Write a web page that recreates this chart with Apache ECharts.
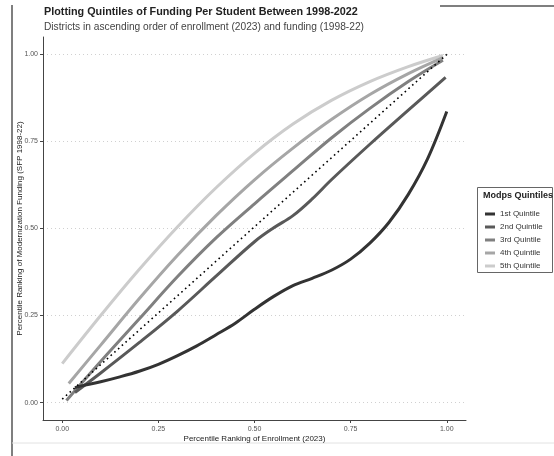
<!DOCTYPE html>
<html>
<head>
<meta charset="utf-8">
<script src="https://cdn.jsdelivr.net/npm/echarts@6/dist/echarts.min.js"></script>
<style>
html,body{margin:0;padding:0;background:#fff;}
#c{width:554px;height:456px;}
</style>
</head>
<body>
<div id="c"></div>
<script>
var ticks = [0, 0.25, 0.5, 0.75, 1];
var seriesNames = ['1st Quintile', '2nd Quintile', '3rd Quintile', '4th Quintile', '5th Quintile'];
var q1 = [[0.033,0.043],[0.05,0.048],[0.1,0.060],[0.15,0.074],[0.2,0.090],[0.25,0.110],[0.3,0.135],[0.35,0.163],[0.4,0.195],[0.45,0.228],[0.5,0.268],[0.55,0.305],[0.6,0.336],[0.65,0.357],[0.7,0.380],[0.75,0.412],[0.8,0.458],[0.85,0.518],[0.9,0.598],[0.95,0.700],[1.0,0.836]];
var q2 = [[0.033,0.029],[0.1,0.085],[0.2,0.172],[0.3,0.263],[0.4,0.363],[0.5,0.462],[0.55,0.502],[0.6,0.537],[0.65,0.585],[0.7,0.640],[0.8,0.742],[0.9,0.840],[0.997,0.934]];
var q3 = [[0.011,0.006],[0.1,0.118],[0.2,0.240],[0.3,0.362],[0.4,0.473],[0.5,0.571],[0.6,0.666],[0.7,0.760],[0.8,0.845],[0.9,0.922],[0.99,0.983]];
var q4 = [[0.017,0.055],[0.1,0.165],[0.2,0.298],[0.3,0.423],[0.4,0.537],[0.5,0.640],[0.6,0.731],[0.7,0.813],[0.8,0.885],[0.9,0.945],[0.99,0.991]];
var q5 = [[0,0.112],[0.1,0.250],[0.2,0.382],[0.3,0.505],[0.4,0.617],[0.5,0.716],[0.6,0.800],[0.7,0.868],[0.8,0.922],[0.9,0.965],[0.99,0.997]];
var diagonal = [[0,0.01],[1,1]];
var colors = ['#333333', '#595959', '#808080', '#a6a6a6', '#cccccc'];

var font = 'Liberation Sans, Arial, sans-serif';
var chart = echarts.init(document.getElementById('c'), null, {renderer: 'canvas'});
var allData = [q1, q2, q3, q4, q5];
var series = allData.map(function (d, i) {
  return {
    name: seriesNames[i], type: 'line', data: d, smooth: 0.35, showSymbol: false, symbol: 'none',
    lineStyle: {color: colors[i], width: 3}, itemStyle: {color: colors[i]}, z: 10 - i
  };
});
series.push({
  name: 'diag', type: 'line', data: diagonal, showSymbol: false, symbol: 'none',
  lineStyle: {color: '#000', width: 1.6, type: [1.6, 3.4]}, z: 20
});
var tickFmt = function (v) { return v.toFixed(2); };
chart.setOption({
  animation: false,
  backgroundColor: '#fff',
  grid: {left: 43, right: 88, top: 37, bottom: 36, containLabel: false},
  xAxis: {
    type: 'value', min: -0.05, max: 1.05,
    name: 'Percentile Ranking of Enrollment (2023)', nameLocation: 'middle', nameGap: 15, nameMoveOverlap: false,
    nameTextStyle: {fontFamily: font, fontSize: 8, color: '#222'},
    axisLine: {show: true, onZero: false, lineStyle: {color: '#444', width: 1}},
    axisTick: {show: true, length: 3, customValues: ticks, lineStyle: {color: '#444'}},
    axisLabel: {customValues: ticks, formatter: tickFmt, fontFamily: font, fontSize: 7, color: '#555', margin: 6},
    splitLine: {show: false}
  },
  yAxis: {
    type: 'value', min: -0.05, max: 1.05,
    name: 'Percentile Ranking of Modernization Funding (SFP 1998-22)', nameLocation: 'middle', nameGap: 19, nameMoveOverlap: false,
    nameTextStyle: {fontFamily: font, fontSize: 8, color: '#222'},
    axisLine: {show: true, onZero: false, lineStyle: {color: '#444', width: 1}},
    axisTick: {show: true, length: 3, customValues: ticks, lineStyle: {color: '#444'}},
    axisLabel: {customValues: ticks, formatter: tickFmt, fontFamily: font, fontSize: 7, color: '#555', margin: 5},
    splitLine: {show: true, lineStyle: {color: '#d0d0d0', width: 1, type: [1, 3]}}
  },
  legend: {
    data: seriesNames, orient: 'vertical', left: 480, top: 204,
    icon: 'rect', itemWidth: 10, itemHeight: 3, itemGap: 3,
    textStyle: {fontFamily: font, fontSize: 8, color: '#333', lineHeight: 10}
  },
  graphic: [
    {type: 'line', shape: {x1: 12, y1: 5, x2: 12, y2: 456}, style: {stroke: '#555', lineWidth: 1.5}},
    {type: 'line', shape: {x1: 440, y1: 6, x2: 554, y2: 6}, style: {stroke: '#555', lineWidth: 1.5}},
    {type: 'line', shape: {x1: 12, y1: 443, x2: 554, y2: 443}, style: {stroke: '#e2e2e2', lineWidth: 1}},
    {type: 'rect', shape: {x: 477.5, y: 187.5, width: 75, height: 85}, style: {fill: 'none', stroke: '#666', lineWidth: 1}},
    {type: 'text', x: 483, y: 191, style: {text: 'Modps Quintiles', font: 'bold 9px Liberation Sans, Arial, sans-serif', fill: '#222'}},
    {type: 'text', x: 44, y: 7, style: {text: 'Plotting Quintiles of Funding Per Student Between 1998-2022', font: 'bold 10.8px Liberation Sans, Arial, sans-serif', fill: '#222'}},
    {type: 'text', x: 44, y: 22, style: {text: 'Districts in ascending order of enrollment (2023) and funding (1998-22)', font: '10.2px Liberation Sans, Arial, sans-serif', fill: '#444'}}
  ],
  series: series
});
</script>
</body>
</html>
